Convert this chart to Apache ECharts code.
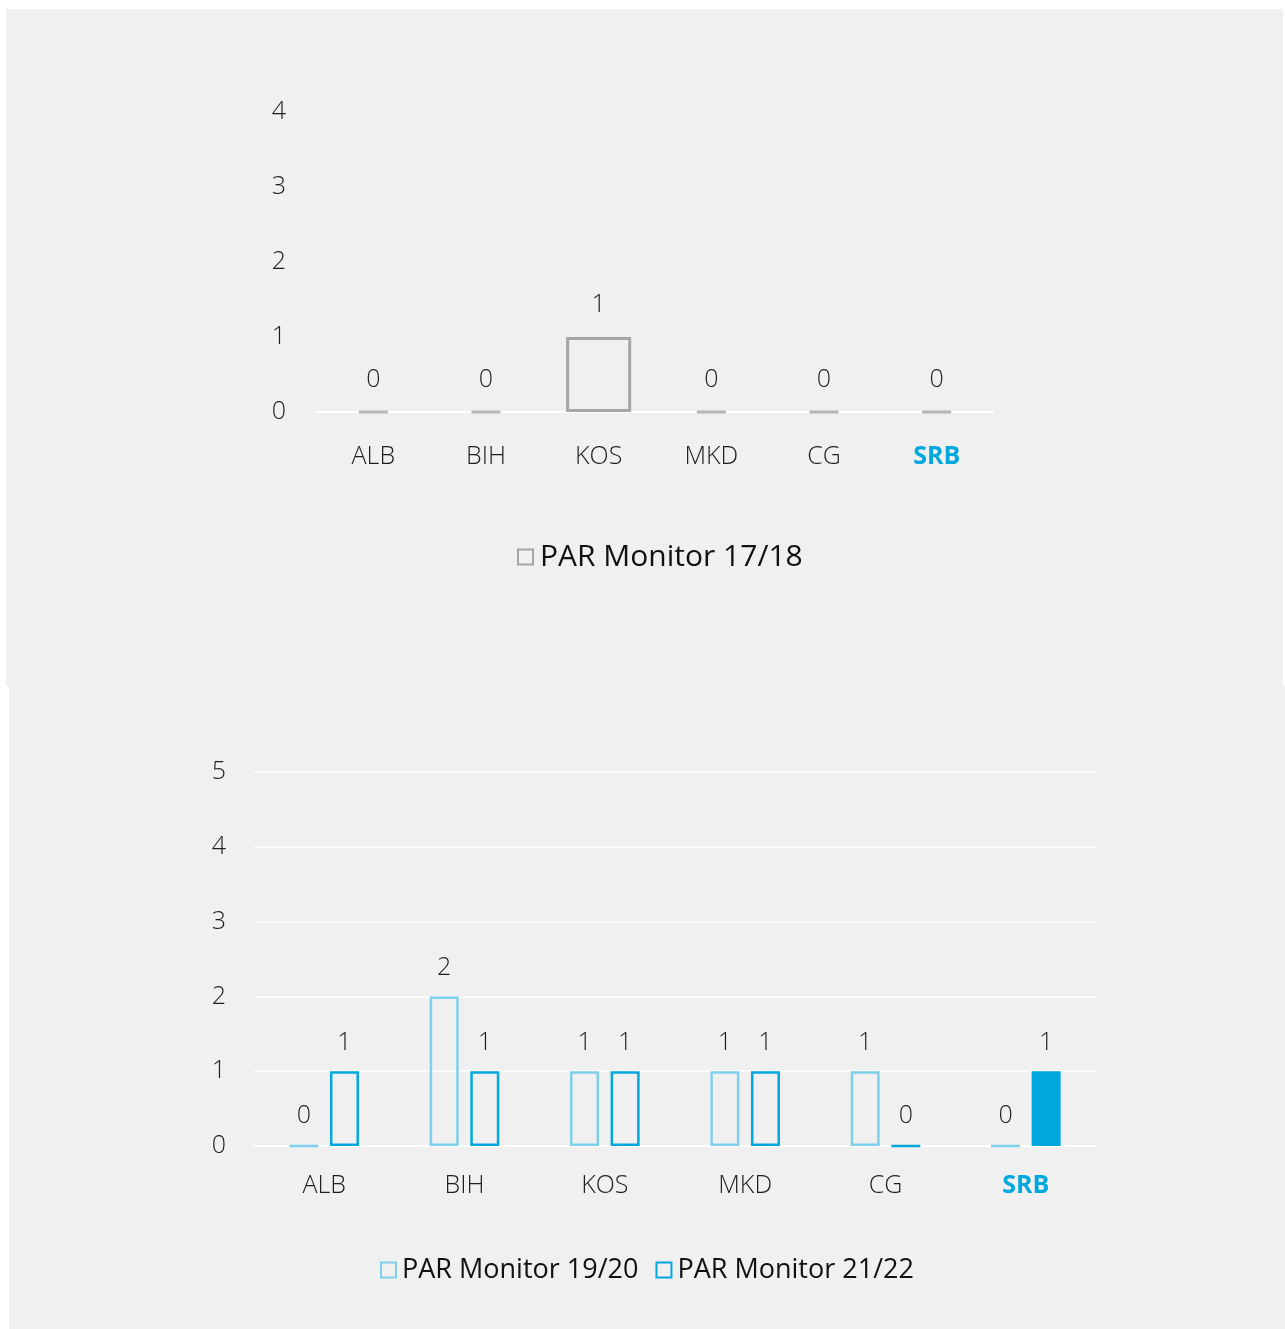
<!DOCTYPE html>
<html><head><meta charset="utf-8">
<script src="https://cdn.jsdelivr.net/npm/echarts@6/dist/echarts.min.js"></script>
<style>
html,body{margin:0;padding:0;background:#fff;width:1285px;height:1329px;overflow:hidden}
#p1{position:absolute;left:6px;top:9px;width:1277px;height:677px;background:#f0f0f0}
#p2{position:absolute;left:9px;top:686px;width:1276px;height:643px;background:#f0f0f0}
#chart{position:absolute;left:0;top:0;width:1285px;height:1329px}
</style></head><body>
<div id="p1"></div><div id="p2"></div><div id="chart"></div>
<script>
const categories = ['ALB', 'BIH', 'KOS', 'MKD', 'CG', 'SRB'];
const highlight = 'SRB';
const topTicks = [0, 1, 2, 3, 4];
const bottomTicks = [0, 1, 2, 3, 4, 5];
const par1718 = [0, 0, 1, 0, 0, 0];
const par1920 = [0, 2, 1, 1, 1, 0];
const par2122 = [1, 1, 1, 1, 0, 1];
const names = ['PAR Monitor 17/18', 'PAR Monitor 19/20', 'PAR Monitor 21/22'];

const GRAY = '#a6a6a6', LIGHT = '#7fd0ec', BLUE = '#00a8de';
const FONT = '"Open Sans", "Noto Sans", sans-serif';
const TXT = '#1e1e1e';
const W = 350;

const chart = echarts.init(document.getElementById('chart'), null, {renderer: 'canvas'});

function xAxisFor(idx, margin) {
  return {
    type: 'category', gridIndex: idx, data: categories,
    axisTick: {show: false},
    axisLine: {show: true, lineStyle: {color: '#ffffff', width: 2}},
    axisLabel: {
      interval: 0, margin: margin, fontFamily: FONT, fontSize: 25, fontWeight: W, color: TXT,
      formatter: v => v === highlight ? '{hl|' + v + '}' : v,
      rich: {hl: {fontFamily: FONT, fontSize: 25, fontWeight: 'bold', color: BLUE}}
    }
  };
}
function yAxisFor(idx, ticks, split, margin) {
  return {
    type: 'value', gridIndex: idx, min: ticks[0], max: ticks[ticks.length - 1], interval: 1,
    axisLine: {show: false}, axisTick: {show: false},
    splitLine: {show: split, lineStyle: {color: '#ffffff', width: 1.5}},
    axisLabel: {margin: margin, fontFamily: FONT, fontSize: 25, fontWeight: W, color: TXT, padding: [4, 0, 0, 0]}
  };
}
function labelStyle(dist) {
  return {show: true, position: 'top', distance: dist, fontFamily: FONT, fontSize: 25, fontWeight: W, color: TXT, formatter: '{c}'};
}

const option = {
  animation: false,
  backgroundColor: 'transparent',
  grid: [
    {left: 317, width: 676, top: 112, height: 300},
    {left: 254, width: 842, top: 772, height: 374}
  ],
  xAxis: [xAxisFor(0, 32), xAxisFor(1, 27)],
  yAxis: [yAxisFor(0, topTicks, false, 31), yAxisFor(1, bottomTicks, true, 28)],
  legend: [
    {data: [names[0]], left: 512, top: 535, icon: 'rect', itemWidth: 15, itemHeight: 15,
     itemStyle: {borderWidth: 2},
     textStyle: {fontFamily: FONT, fontSize: 30, color: '#111', lineHeight: 34, padding: [0, 0, 0, 2]}},
    {data: [names[1], names[2]], left: 375, top: 1249, icon: 'rect', itemWidth: 15, itemHeight: 15, itemGap: 17,
     itemStyle: {borderWidth: 2},
     textStyle: {fontFamily: FONT, fontSize: 27, color: '#111', lineHeight: 32, padding: [0, 0, 0, 1]}}
  ],
  series: [
    {
      name: names[0], type: 'bar', xAxisIndex: 0, yAxisIndex: 0, barWidth: 65,
      itemStyle: {color: 'transparent', borderColor: GRAY, borderWidth: 3},
      label: labelStyle(20),
      data: par1718.map(v => v === 0 ? {value: v, itemStyle: {borderWidth: 0}} : v)
    },
    {
      name: names[0] + ' zero', type: 'scatter', xAxisIndex: 0, yAxisIndex: 0, silent: true,
      symbol: 'rect', symbolSize: [29, 3], itemStyle: {color: GRAY},
      data: par1718.map(v => v === 0 ? v : '-')
    },
    {
      name: names[1], type: 'bar', xAxisIndex: 1, yAxisIndex: 1, barWidth: 29, barGap: '40%',
      itemStyle: {color: 'transparent', borderColor: LIGHT, borderWidth: 2.5},
      label: labelStyle(16),
      data: par1920.slice()
    },
    {
      name: names[2], type: 'bar', xAxisIndex: 1, yAxisIndex: 1, barWidth: 29, barGap: '40%',
      itemStyle: {color: 'transparent', borderColor: BLUE, borderWidth: 2.5},
      label: labelStyle(16),
      data: par2122.map((v, i) => categories[i] === highlight ? {value: v, itemStyle: {color: BLUE}} : v)
    }
  ]
};
chart.setOption(option);
</script>
</body></html>
